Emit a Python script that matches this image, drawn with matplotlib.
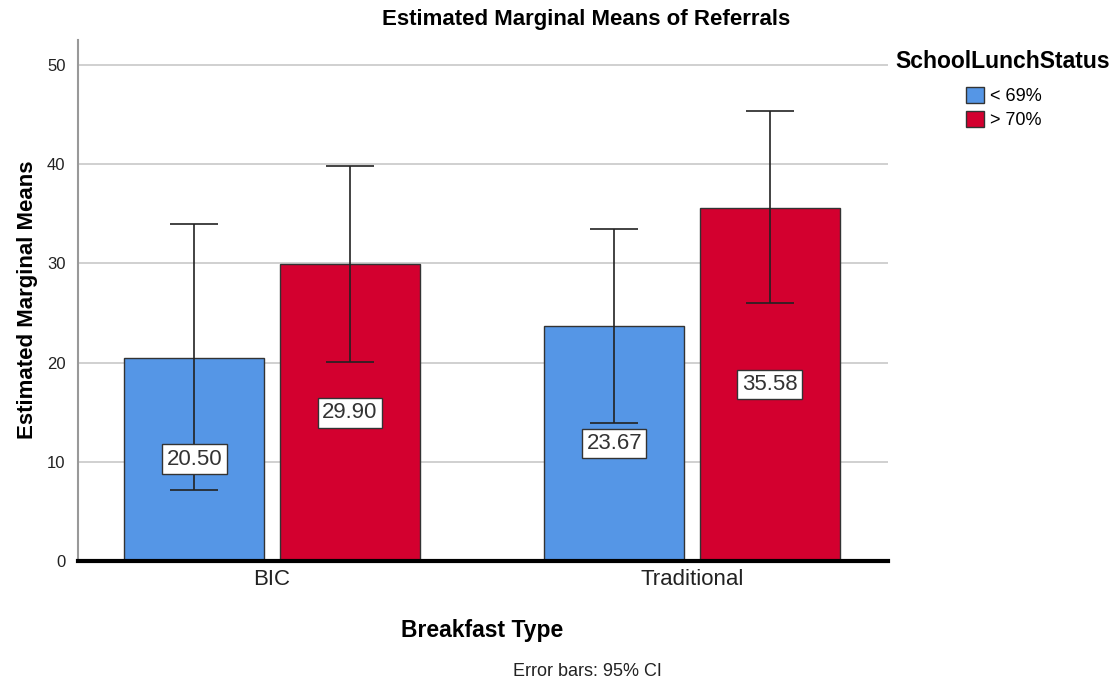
import matplotlib.pyplot as plt
import numpy as np

plt.rcParams['font.family'] = ['Liberation Sans', 'DejaVu Sans']

categories = ['BIC', 'Traditional']
groups = ['< 69%', '> 70%']
means_low = [20.50, 23.67]
means_high = [29.90, 35.58]
ci_low_lo = [7.16, 13.88]
ci_low_hi = [33.97, 33.47]
ci_high_lo = [20.02, 25.98]
ci_high_hi = [39.80, 45.30]
colors = ['#5596e6', '#d3002f']

fig = plt.figure(figsize=(11.17, 6.84), dpi=100)
ax = fig.add_axes([78 / 1117, 1 - 561 / 684, (888 - 78) / 1117, (561 - 40) / 684])

x = np.arange(len(categories))
w = 0.333
off = 0.185

series = [
    (means_low, ci_low_lo, ci_low_hi, colors[0], -off),
    (means_high, ci_high_lo, ci_high_hi, colors[1], off),
]
for i, (m, lo, hi, c, o) in enumerate(series):
    m = np.array(m)
    lo = np.array(lo)
    hi = np.array(hi)
    ax.bar(x + o, m, width=w, color=c, edgecolor='#333333', linewidth=1,
           label=groups[i], zorder=2)
    ax.errorbar(x + o, m, yerr=[m - lo, hi - m], fmt='none', ecolor='#222222',
                elinewidth=1.2, capsize=17, capthick=1.2, zorder=4)
    for xi, mi in zip(x + o, m):
        ax.text(xi, mi / 2, f'{mi:.2f}', ha='center', va='center', fontsize=16,
                color='#333333', zorder=5,
                bbox=dict(boxstyle='square,pad=0.2', fc='white', ec='#333333', lw=1))

ax.set_xlim(-0.462, 1.467)
ax.set_ylim(0, 52.5)
ax.set_yticks([0, 10, 20, 30, 40, 50])
ax.set_xticks(x)
ax.set_xticklabels(categories, fontsize=16, color='#222222')
ax.tick_params(axis='y', labelsize=12, colors='#222222', length=0, pad=9)
ax.tick_params(axis='x', length=0, pad=6)
ax.grid(axis='y', color='#c8c8c8', linewidth=1.2, zorder=0)
ax.set_axisbelow(True)

for s in ['top', 'right']:
    ax.spines[s].set_visible(False)
ax.spines['left'].set_color('#999999')
ax.spines['left'].set_linewidth(1.5)
ax.spines['bottom'].set_color('black')
ax.spines['bottom'].set_linewidth(3)
ax.spines['bottom'].set_zorder(6)

fig.text(586 / 1117, 1 - 20 / 684, 'Estimated Marginal Means of Referrals',
         ha='center', va='center', fontsize=16, fontweight='bold')
fig.text(28 / 1117, 1 - 300 / 684, 'Estimated Marginal Means', rotation=90,
         ha='center', va='center', fontsize=16, fontweight='bold')
fig.text(482 / 1117, 1 - 630 / 684, 'Breakfast Type', ha='center', va='center',
         fontsize=16.5, fontweight='bold')
fig.text(587 / 1117, 1 - 672 / 684, 'Error bars: 95% CI', ha='center',
         va='center', fontsize=13, color='#222222')

fig.text(1003 / 1117, 1 - 62 / 684, 'SchoolLunchStatus', ha='center', va='center',
         fontsize=16.5, fontweight='bold')
leg = fig.legend(loc='upper left', bbox_to_anchor=(957 / 1117, 1 - 78 / 684),
                 frameon=False, fontsize=13, handlelength=1.0, handleheight=1.0,
                 handletextpad=0.3, labelspacing=0.3, borderpad=0)

fig.savefig('out.png', dpi=100)
